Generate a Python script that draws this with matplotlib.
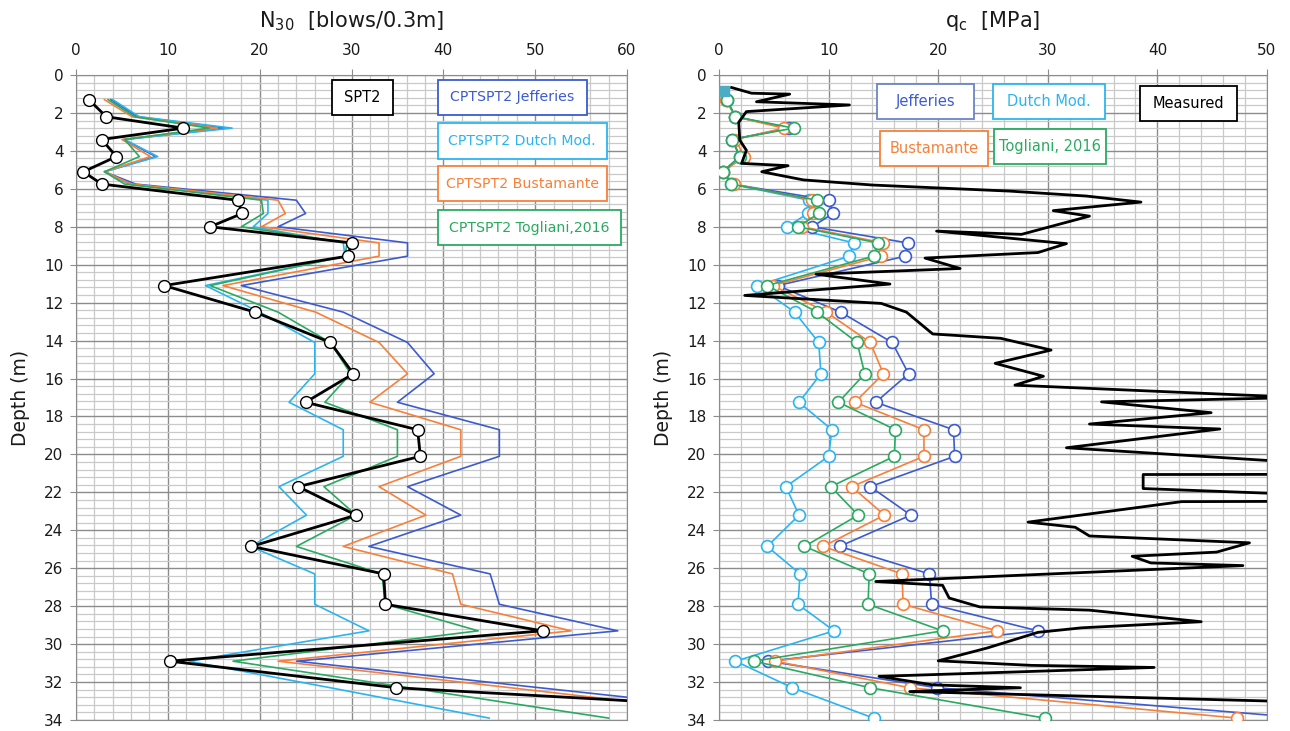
import matplotlib

matplotlib.use("agg")
import matplotlib.pyplot as plt
from matplotlib.patches import Rectangle
from matplotlib.ticker import MultipleLocator

# depths of the SPT2 / CPT comparison points (m)
depth = [1.3, 2.2, 2.8, 3.4, 4.3, 5.1, 5.75, 6.6, 7.3, 8.0, 8.85, 9.55, 11.1, 12.5,
         14.1, 15.75, 17.25, 18.7, 20.1, 21.7, 23.2, 24.85, 26.3, 27.9, 29.3, 30.9,
         32.3, 33.9]

# N30 - measured SPT and CPT based correlations
spt2_n30 = [1.4, 3.3, 11.7, 2.8, 4.4, 0.8, 2.8, 17.6, 18.1, 14.6, 30.0, 29.6, 9.6, 19.5,
            27.7, 30.2, 25.0, 37.2, 37.5, 24.2, 30.5, 19.1, 33.5, 33.7, 50.8, 10.2,
            34.9, 94.0]
n30_jefferies = [3.8, 6.7, 16.3, 5.2, 8.7, 3.1, 6.5, 24.0, 25.0, 22.0, 36.1, 36.1, 18.0,
                 29.1, 36.1, 39.0, 35.0, 46.1, 46.1, 36.1, 41.9, 31.9, 45.1, 46.1, 59.0,
                 24.0, 50.5, 81.0]
n30_dutch = [4.0, 6.9, 17.0, 5.3, 8.9, 3.1, 5.8, 20.9, 20.9, 19.3, 29.1, 29.3, 14.1,
             20.0, 26.0, 26.0, 23.2, 29.1, 29.1, 22.1, 25.1, 19.0, 26.0, 26.0, 31.9,
             12.3, 27.7, 45.0]
n30_bustamante = [3.1, 6.1, 15.4, 5.0, 8.1, 3.1, 6.0, 22.0, 22.8, 20.2, 33.0, 33.0, 16.0,
                  26.1, 33.0, 36.1, 32.0, 41.9, 41.9, 33.0, 38.1, 29.1, 41.0, 41.9, 53.9,
                  22.0, 47.3, 76.0]
n30_togliani = [3.5, 6.4, 14.5, 5.3, 6.9, 3.1, 5.3, 20.2, 20.4, 18.0, 29.5, 29.3, 14.6,
                22.0, 27.7, 29.9, 27.1, 35.0, 35.0, 27.0, 30.5, 24.0, 33.3, 33.7, 43.8,
                17.1, 36.2, 58.0]

# qc - back-calculated from SPT by each correlation (MPa)
qc_jefferies = [0.7, 1.5, 6.3, 1.2, 1.9, 0.35, 1.2, 10.05, 10.4, 8.5, 17.2, 17.0, 5.35,
                11.1, 15.8, 17.3, 14.3, 21.4, 21.5, 13.8, 17.5, 11.0, 19.2, 19.4, 29.1,
                4.5, 19.9, 53.5]
qc_dutch = [0.7, 1.5, 6.5, 1.2, 1.9, 0.35, 1.1, 8.2, 8.1, 6.2, 12.3, 11.9, 3.5, 6.9, 9.1,
            9.3, 7.3, 10.3, 10.0, 6.1, 7.3, 4.4, 7.4, 7.2, 10.5, 1.5, 6.7, 14.1]
qc_bustamante = [0.6, 1.5, 5.9, 1.5, 2.3, 0.4, 1.4, 8.5, 8.6, 7.6, 15.0, 14.8, 4.9, 9.8,
                 13.8, 15.0, 12.4, 18.7, 18.7, 12.1, 15.1, 9.5, 16.7, 16.8, 25.4, 5.1,
                 17.4, 47.3]
qc_togliani = [0.7, 1.5, 6.8, 1.2, 1.9, 0.4, 1.1, 8.95, 9.1, 7.2, 14.5, 14.1, 4.4, 8.95,
               12.6, 13.3, 10.9, 16.1, 16.0, 10.2, 12.7, 7.8, 13.7, 13.6, 20.4, 3.2,
               13.8, 29.7]

# measured CPT profile
meas_qc = [1.15, 2.97, 6.45, 3.42, 11.9, 2.5, 1.8, 1.9, 2.5, 2.06, 6.3, 3.9, 7.7, 14.0,
           26.5, 33.5, 38.5, 30.5, 33.8, 27.6, 19.85, 31.7, 29.1, 18.8, 22.0, 8.85,
           15.6, 2.35, 14.8, 17.1, 19.5, 25.7, 30.3, 25.2, 29.6, 27.0, 53.0, 34.9, 44.9,
           33.8, 45.7, 31.7, 55.0, 55.0, 38.7, 38.7, 55.0, 55.0, 42.2, 28.2, 32.5, 33.8,
           48.4, 45.4, 37.7, 39.4, 47.8, 14.3, 20.4, 21.0, 23.8, 33.8, 44.0, 33.1, 29.1,
           24.5, 20.0, 28.5, 39.7, 14.6, 19.5, 27.5, 17.4, 60.0]
meas_depth = [0.66, 0.96, 1.01, 1.41, 1.58, 1.93, 2.49, 3.44, 3.97, 4.66, 4.78, 5.10,
              5.53, 5.8, 6.12, 6.38, 6.7, 7.15, 7.44, 8.4, 8.23, 8.89, 9.36, 9.65, 10.2,
              10.5, 11.02, 11.62, 12.04, 12.5, 13.65, 13.88, 14.5, 15.2, 15.88, 16.35,
              17.0, 17.23, 17.8, 18.4, 18.66, 19.65, 20.5, 21.05, 21.06, 21.8, 22.15,
              22.47, 22.49, 23.57, 23.84, 24.3, 24.66, 25.15, 25.37, 25.72, 25.86, 26.7,
              26.9, 27.57, 28.04, 28.21, 28.82, 29.14, 29.38, 30.2, 30.88, 31.12, 31.23,
              31.7, 32.15, 32.3, 32.5, 33.15]

# small start-of-test marker
start_qc = [0.5]
start_depth = [0.85]

plt.rcParams["font.family"] = ["DejaVu Sans"]

C_JEF = "#3C5BD0"
C_DUT = "#2BB5F0"
C_BUS = "#F7803A"
C_TOG = "#2AAA60"
GRID_MAJ = "#8C8C8C"
GRID_MIN = "#C9C9C9"

fig = plt.figure(figsize=(12.9, 7.31), dpi=100)
ax_n = fig.add_axes([76 / 1290, 11 / 731, 551 / 1290, 645 / 731])
ax_q = fig.add_axes([719 / 1290, 11 / 731, 548 / 1290, 645 / 731])


def style_axis(ax, xmax):
    ax.set_xlim(0, xmax)
    ax.set_ylim(34, 0)
    ax.xaxis.tick_top()
    ax.xaxis.set_major_locator(MultipleLocator(10))
    ax.xaxis.set_minor_locator(MultipleLocator(2))
    ax.yaxis.set_major_locator(MultipleLocator(2))
    ax.yaxis.set_minor_locator(MultipleLocator(0.4))
    ax.grid(which="minor", color=GRID_MIN, lw=0.9)
    ax.grid(which="major", color=GRID_MAJ, lw=1.0)
    ax.set_axisbelow(True)
    ax.tick_params(which="major", length=4, color=GRID_MAJ, labelsize=11,
                   labelcolor="#1a1a1a")
    ax.tick_params(axis="x", which="major", pad=8)
    ax.tick_params(axis="y", which="major", pad=5)
    ax.tick_params(which="minor", length=0)
    for s in ax.spines.values():
        s.set_color(GRID_MAJ)
    ax.set_ylabel("Depth (m)", fontsize=13.5, color="#1a1a1a")
    ax.yaxis.set_label_coords(-0.084, 0.5)


def label_box(ax, x0, x1, y0, y1, text, edge, color, size=10.5):
    ax.add_patch(Rectangle((x0, y0), x1 - x0, y1 - y0, facecolor="white",
                           edgecolor=edge, lw=1.3, zorder=6))
    ax.text((x0 + x1) / 2, (y0 + y1) / 2, text, color=color, fontsize=size,
            ha="center", va="center", zorder=7)


# ---- left: N30 ----
style_axis(ax_n, 60)
line_kw = dict(lw=1.2, zorder=3)
ax_n.plot(n30_jefferies, depth, color=C_JEF, **line_kw)
ax_n.plot(n30_dutch, depth, color=C_DUT, **line_kw)
ax_n.plot(n30_bustamante, depth, color=C_BUS, **line_kw)
ax_n.plot(n30_togliani, depth, color=C_TOG, **line_kw)
ax_n.plot(spt2_n30, depth, color="black", lw=2.0, marker="o", ms=8.5,
          mfc="white", mec="black", mew=1.0, zorder=4)
fig.text(351 / 1290, 1 - 21 / 731, r"N$_{30}$  [blows/0.3m]", fontsize=15,
         ha="center", va="center", color="#1a1a1a")

label_box(ax_n, 27.9, 34.5, 0.26, 2.1, "SPT2", "black", "black")
label_box(ax_n, 39.4, 55.6, 0.26, 2.1, "CPTSPT2 Jefferies", C_JEF, C_JEF, 10.2)
label_box(ax_n, 39.4, 57.8, 2.54, 4.41, "CPTSPT2 Dutch Mod.", C_DUT, C_DUT, 10.2)
label_box(ax_n, 39.4, 57.8, 4.82, 6.65, "CPTSPT2 Bustamante", C_BUS, C_BUS, 10.2)
label_box(ax_n, 39.4, 59.4, 7.13, 8.98, "CPTSPT2 Togliani,2016", C_TOG, C_TOG, 10.2)

# ---- right: qc ----
style_axis(ax_q, 50)
mk_kw = dict(lw=1.2, marker="o", ms=8.5, mfc="white", mew=1.2, zorder=3)
ax_q.plot(qc_dutch, depth, color=C_DUT, mec=C_DUT, **mk_kw)
ax_q.plot(qc_jefferies, depth, color=C_JEF, mec=C_JEF, **mk_kw)
ax_q.plot(qc_bustamante, depth, color=C_BUS, mec=C_BUS, **mk_kw)
ax_q.plot(qc_togliani, depth, color=C_TOG, mec=C_TOG, **mk_kw)
ax_q.plot(meas_qc, meas_depth, color="black", lw=2.0, zorder=4)
ax_q.plot(start_qc, start_depth, ls="none", marker="s", ms=7, color="#4BACC6",
          zorder=5)
fig.text(993 / 1290, 1 - 21 / 731, r"q$_{\rm c}$  [MPa]", fontsize=15,
         ha="center", va="center", color="#1a1a1a")

label_box(ax_q, 14.4, 23.3, 0.45, 2.33, "Jefferies", "#6A86C9", C_JEF)
label_box(ax_q, 25.0, 35.2, 0.45, 2.33, "Dutch Mod.", C_DUT, C_DUT)
label_box(ax_q, 38.4, 47.3, 0.58, 2.45, "Measured", "black", "black")
label_box(ax_q, 14.7, 24.5, 2.97, 4.81, "Bustamante", C_BUS, C_BUS)
label_box(ax_q, 25.1, 35.3, 2.85, 4.69, "Togliani, 2016", C_TOG, C_TOG)

fig.savefig("out.png", dpi=100, facecolor="white")
plt.close(fig)
